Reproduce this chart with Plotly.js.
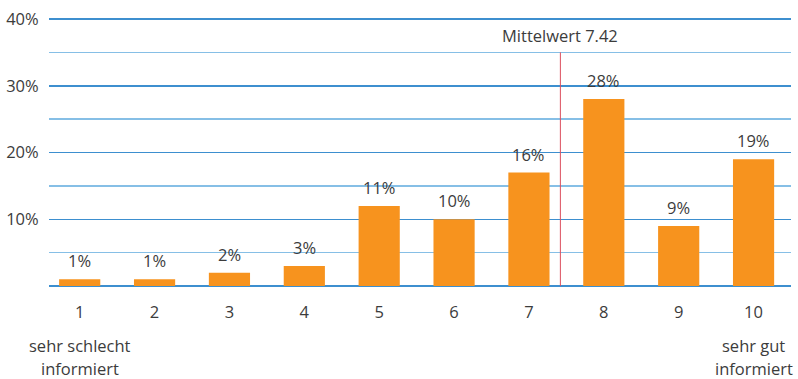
<!DOCTYPE html>
<html>
<head>
<meta charset="utf-8">
<script src="https://cdn.plot.ly/plotly-3.0.1.min.js"></script>
<style>html,body{margin:0;padding:0;background:#fff}#chart{width:798px;height:379px}</style>
</head>
<body>
<div id="chart"></div>
<script>
var categories = ['1','2','3','4','5','6','7','8','9','10'];
var barValues = [1, 1, 2, 3, 12, 10, 17, 28, 9, 19];
var barLabels = ['1%','1%','2%','3%','11%','10%','16%','28%','9%','19%'];
var yTickVals = [10, 20, 30, 40];
var yTickText = ['10%', '20%', '30%', '40%'];
var meanValue = 7.42;
var meanLabel = 'Mittelwert 7.42';
var lowLabel = ['sehr schlecht', 'informiert'];
var highLabel = ['sehr gut', 'informiert'];

var font = {family: '"Open Sans", sans-serif', size: 16.5, color: '#3c3c3c'};

var annotations = categories.map(function (c, i) {
  return {x: i, y: barValues[i], xref: 'x', yref: 'y', text: barLabels[i], showarrow: false,
          yanchor: 'bottom', yshift: 5, font: font};
});
annotations.push({x: meanValue - 1, y: 35, xref: 'x', yref: 'y', text: meanLabel,
  showarrow: false, yanchor: 'bottom', yshift: 3, font: font});
var lineY = [-0.22, -0.308];
lowLabel.forEach(function (t, k) {
  annotations.push({x: 0, y: lineY[k], xref: 'x', yref: 'paper', text: t,
    showarrow: false, yanchor: 'middle', font: font});
});
highLabel.forEach(function (t, k) {
  annotations.push({x: categories.length - 1, y: lineY[k], xref: 'x', yref: 'paper', text: t,
    showarrow: false, yanchor: 'middle', font: font});
});

var trace = {
  type: 'bar', x: categories, y: barValues,
  marker: {color: '#f7931e'}, hoverinfo: 'none', width: 0.55
};

var layout = {
  width: 798, height: 379,
  margin: {l: 49, r: 7, t: 17, b: 93},
  paper_bgcolor: '#fff', plot_bgcolor: '#fff',
  showlegend: false,
  font: font,
  xaxis: {
    type: 'category', range: [-0.41, 9.5], showgrid: false, zeroline: false,
    showline: false, ticks: 'outside', ticklen: 11, tickcolor: 'rgba(0,0,0,0)',
    tickfont: font, fixedrange: true
  },
  yaxis: {
    range: [0, 40.3], tickvals: yTickVals, ticktext: yTickText,
    showgrid: true, gridcolor: '#3d8fcf', gridwidth: 1.5,
    minor: {dtick: 5, tick0: 0, showgrid: true, gridcolor: '#86bfe6', gridwidth: 1.5},
    zeroline: true, zerolinecolor: '#3d8fcf', zerolinewidth: 1.5,
    ticks: 'outside', ticklen: 6, tickcolor: 'rgba(0,0,0,0)',
    tickfont: font, fixedrange: true
  },
  shapes: [{
    type: 'line', xref: 'x', yref: 'y', x0: meanValue - 1, x1: meanValue - 1,
    y0: 0, y1: 35, line: {color: '#dc4f5e', width: 1}
  }],
  annotations: annotations
};

Plotly.newPlot('chart', [trace], layout, {displayModeBar: false, staticPlot: true});
</script>
</body>
</html>
